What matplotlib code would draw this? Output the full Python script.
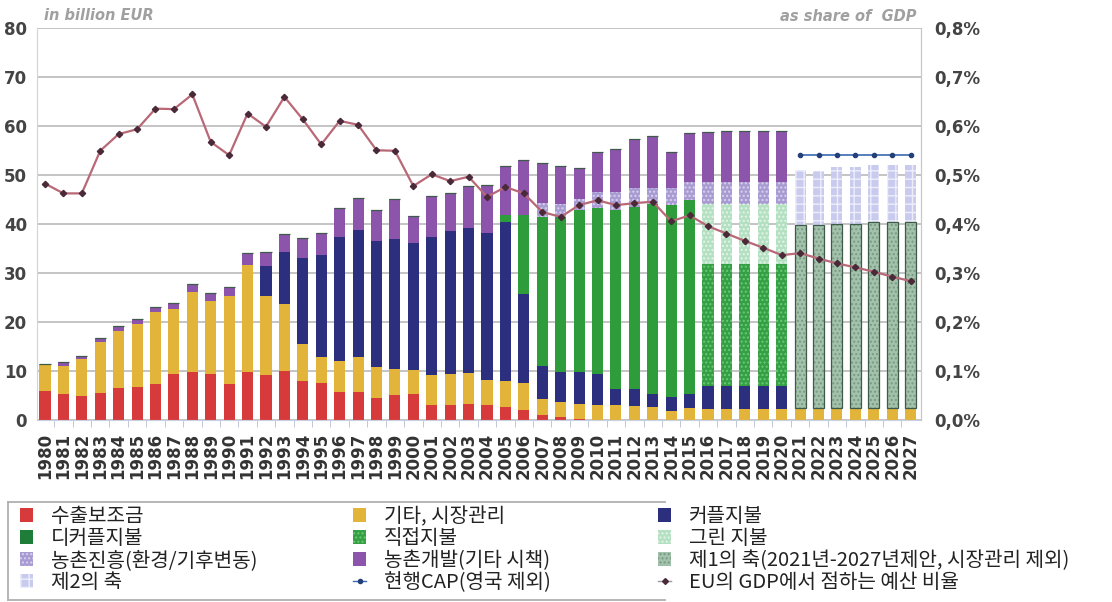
import matplotlib
matplotlib.use("Agg")
import matplotlib.pyplot as plt
from matplotlib.patches import Patch
from matplotlib.lines import Line2D
import numpy as np

years = list(range(1980, 2028))

# billion EUR, stacked segments
export_sub = [5.9, 5.3, 5.0, 5.5, 6.6, 6.8, 7.4, 9.4, 9.9, 9.5, 7.4, 9.9, 9.3, 10.0, 7.9, 7.6,
              5.7, 5.7, 4.6, 5.2, 5.4, 3.1, 3.1, 3.4, 3.0, 2.7, 2.1, 1.1, 0.7, 0.3, 0, 0,
              0, 0, 0, 0, 0, 0, 0, 0, 0, 0, 0, 0, 0, 0, 0, 0]
other_market = [5.5, 5.7, 7.4, 10.4, 11.7, 12.9, 14.7, 13.4, 16.3, 14.8, 17.9, 21.7, 16.1, 13.8, 7.6, 5.4,
                6.4, 7.1, 6.3, 5.3, 4.8, 6.1, 6.4, 6.3, 5.2, 5.4, 5.4, 3.3, 3.0, 3.1, 3.2, 3.1,
                2.9, 2.7, 1.9, 2.4, 2.2, 2.2, 2.2, 2.2, 2.2, 2.4, 2.4, 2.4, 2.4, 2.4, 2.4, 2.4]
coupled = [0, 0, 0, 0, 0, 0, 0, 0, 0, 0, 0, 0, 6.0, 10.5, 17.6, 20.7,
           25.3, 26.0, 25.6, 26.4, 26.0, 28.2, 29.1, 29.6, 30.0, 32.4, 18.3, 6.6, 6.2, 6.5, 6.3, 3.2,
           3.4, 2.7, 2.9, 3.0, 4.7, 4.7, 4.7, 4.7, 4.7, 0, 0, 0, 0, 0, 0, 0]
decoupled = [0] * 25 + [1.3, 16.0, 30.5, 31.6, 33.1, 33.9, 36.7, 37.2, 38.8, 39.1, 39.5] + [0] * 12
direct_pay = [0] * 36 + [24.9, 24.9, 24.9, 24.9, 24.9] + [0] * 7
green_pay = [0] * 36 + [12.4, 12.4, 12.4, 12.4, 12.4] + [0] * 7
rd_env = [0] * 27 + [2.8, 2.7, 2.2, 3.2, 3.6, 3.8, 3.1, 3.4, 3.7, 4.4, 4.4, 4.4, 4.4, 4.4] + [0] * 7
rd_other = [0, 0.9, 0.7, 0.9, 0.9, 1.0, 1.1, 1.2, 1.5, 1.7, 1.9, 2.5, 2.9, 3.8, 4.0, 4.6,
            6.0, 6.6, 6.5, 8.3, 5.5, 8.3, 7.8, 8.5, 9.8, 10.0, 11.4, 8.2, 7.6, 6.3, 8.2, 8.8,
            10.2, 10.7, 7.5, 10.0, 10.2, 10.4, 10.4, 10.4, 10.4, 0, 0, 0, 0, 0, 0, 0]
pillar1 = [0] * 41 + [37.4, 37.4, 37.7, 37.7, 38.1, 38.1, 38.1]
pillar2 = [0] * 41 + [11.2, 11.1, 11.6, 11.6, 11.5, 11.5, 11.5]
current_cap = [54.2] * 7
cap_years = list(range(2021, 2028))

# share of EU GDP, %
gdp_share = [0.483, 0.463, 0.463, 0.550, 0.584, 0.594, 0.636, 0.635, 0.665, 0.568, 0.541, 0.626,
             0.599, 0.660, 0.614, 0.563, 0.611, 0.603, 0.551, 0.550, 0.478, 0.502, 0.488, 0.497,
             0.456, 0.476, 0.463, 0.425, 0.415, 0.439, 0.449, 0.439, 0.443, 0.446, 0.406, 0.418,
             0.396, 0.381, 0.366, 0.352, 0.337, 0.341, 0.330, 0.320, 0.312, 0.303, 0.293, 0.284]

fig = plt.figure(figsize=(11.12, 6.02), dpi=100)
ax = fig.add_axes([0.033, 0.302, 0.795, 0.651])
x = np.arange(len(years))
w = 0.6

series = [
    (export_sub, '#d63a3a', None, None),
    (other_market, '#e2b43a', None, None),
    (coupled, '#2b2f7e', None, None),
    (decoupled, '#2f9c3c', None, None),
    (direct_pay, '#34a043', '....', '#6cc878'),
    (green_pay, '#b4e0c2', '....', '#e4f4e8'),
    (rd_env, '#a89bd2', '....', '#d8d2ee'),
    (rd_other, '#8c55ab', None, None),
    (pillar1, '#a3c2ab', '....', '#7a9a84'),
    (pillar2, '#c9cbee', '++', '#eeeefa'),
]
bottom = np.zeros(len(years))
for vals, col, hatch, hcol in series:
    v = np.array(vals, dtype=float)
    ax.bar(x, v, w, bottom=bottom, color=col, linewidth=0, zorder=2)
    if hatch:
        ax.bar(x, v, w, bottom=bottom, facecolor='none', edgecolor=hcol, hatch=hatch,
               linewidth=0, zorder=2)
    if vals is pillar1:
        ax.bar(x, v, w, bottom=bottom, facecolor='none', edgecolor='#3e5a48',
               linewidth=0.9, zorder=3)
    bottom += v

cap_idx = [years.index(y) for y in cap_years]
ax.plot(cap_idx, current_cap, color='#3a6ab0', lw=1.2, marker='o', ms=3,
        mfc='#24407a', mec='#24407a', zorder=4)

ax.set_xlim(-0.45, 47.55)
ax.set_ylim(0, 80)
ax.set_yticks(range(0, 81, 10))
ax.yaxis.grid(True, color='#c4c4c4', lw=1.4, zorder=0)
ax.set_axisbelow(True)
ax.set_xticks(x)
ax.set_xticklabels([str(y) for y in years], rotation=90, fontsize=12,
                   fontweight='bold', color='#333333')
ax.set_xticks(x[:-1] + 0.5, minor=True)
ax.tick_params(axis='x', which='major', length=0, pad=9)
ax.tick_params(axis='x', which='minor', length=5, color='#b8c0d0')
ax.tick_params(axis='y', length=0, labelsize=12, labelcolor='#444444', pad=7)
for lab in ax.get_yticklabels():
    lab.set_fontweight('bold')
ax.spines['top'].set_visible(False)
ax.spines['left'].set_color('#d0d4e0')
ax.spines['bottom'].set_color('#c8cfe0')
ax.spines['right'].set_color('#c8c8c8')

ax2 = ax.twinx()
ax2.plot(x, gdp_share, color='#b86876', lw=1.6, marker='D', ms=3.2,
         mfc='#4a2a38', mec='#4a2a38', zorder=5)
ax2.set_ylim(0, 0.8)
ax2.set_yticks(np.arange(0, 0.81, 0.1))
ax2.set_yticklabels([f"{v:.1f}%".replace('.', ',') for v in np.arange(0, 0.81, 0.1)],
                    fontweight='bold')
ax2.tick_params(axis='y', length=0, labelsize=12, labelcolor='#444444', pad=10)
for s in ['top', 'left', 'bottom']:
    ax2.spines[s].set_visible(False)
ax2.spines['right'].set_color('#c8c8c8')

fig.text(0.040, 0.975, 'in billion EUR', fontsize=10.5, style='italic',
         fontweight='bold', color='#a0a0a0', va='center')
fig.text(0.824, 0.973, 'as share of  GDP', fontsize=10.5, style='italic',
         fontweight='bold', color='#a0a0a0', va='center', ha='right')

def sw(col, hatch=None, hcol=None):
    return Patch(facecolor=col, edgecolor=hcol if hcol else col, hatch=hatch, linewidth=0)

legend_cols = [
    [(sw('#d63a3a'), '수출보조금'),
     (sw('#1f7d3a'), '디커플지불'),
     (sw('#a89bd2', '....', '#d8d2ee'), '농촌진흥(환경/기후변동)'),
     (sw('#c9cbee', '++', '#eeeefa'), '제2의 축')],
    [(sw('#e2b43a'), '기타, 시장관리'),
     (sw('#34a043', '....', '#6cc878'), '직접지불'),
     (sw('#8c55ab'), '농촌개발(기타 시책)'),
     (Line2D([], [], color='#3a6ab0', lw=1, marker='o', ms=3, mfc='#24407a', mec='#24407a'),
      '현행CAP(영국 제외)')],
    [(sw('#2b2f7e'), '커플지불'),
     (sw('#b4e0c2', '....', '#e4f4e8'), '그린 지불'),
     (sw('#a3c2ab', '....', '#7a9a84'), '제1의 축(2021년-2027년제안, 시장관리 제외)'),
     (Line2D([], [], color='#9a9a9a', lw=1, marker='D', ms=3, mfc='#4a2a38', mec='#4a2a38'),
      'EU의 GDP에서 점하는 예산 비율')],
]
col_x = [20 / 1112, 353 / 1112, 658 / 1112]
for cx, items in zip(col_x, legend_cols):
    leg = fig.legend([h for h, _ in items], [t for _, t in items], loc='upper left',
                     bbox_to_anchor=(cx, 1 - 506 / 602), borderaxespad=0, borderpad=0,
                     prop={'family': ['Noto Sans CJK KR', 'DejaVu Sans'], 'size': 14.5},
                     frameon=False, handlelength=0.65, handleheight=0.65, handletextpad=0.9,
                     labelspacing=0.05)
    for t in leg.get_texts():
        t.set_color('#222222')

# partial legend frame as in the reference
fy_top = 1 - 502 / 602
fy_bot = 1 - 600 / 602
fx_l = 8 / 1112
fx_r = 665 / 1112
fig.add_artist(Line2D([fx_l, fx_r], [fy_top, fy_top], color='#b0b0b0', lw=1.3,
                      transform=fig.transFigure))
fig.add_artist(Line2D([fx_l, fx_l], [fy_bot, fy_top], color='#b0b0b0', lw=1.3,
                      transform=fig.transFigure))
fig.add_artist(Line2D([fx_l, fx_r], [fy_bot, fy_bot], color='#b0b0b0', lw=1.3,
                      transform=fig.transFigure))

fig.savefig('out.png', dpi=100)
